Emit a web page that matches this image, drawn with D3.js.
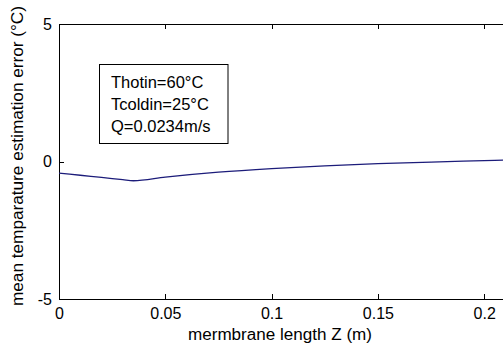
<!DOCTYPE html>
<html><head><meta charset="utf-8">
<script src="https://cdn.jsdelivr.net/npm/d3@7"></script>
<style>
html,body{margin:0;padding:0;background:#fff;}
svg{display:block;font-family:Arial,"Liberation Sans",sans-serif;}
</style></head>
<body>
<svg id="c" width="503" height="348"></svg>
<script>
const zValues = [0, 0.01, 0.02, 0.03, 0.035, 0.05, 0.075, 0.1, 0.125, 0.15, 0.175, 0.2, 0.21];
const errValues = [-0.42, -0.50, -0.58, -0.66, -0.70, -0.57, -0.39, -0.26, -0.16, -0.08, -0.02, 0.03, 0.05];
const xTicks = [0, 0.05, 0.1, 0.15, 0.2];
const xTickLabels = ["0", "0.05", "0.1", "0.15", "0.2"];
const yTicks = [-5, 0, 5];
const yTickLabels = ["-5", "0", "5"];
const legendLines = ["Thotin=60°C", "Tcoldin=25°C", "Q=0.0234m/s"];
const xLabel = "mermbrane length Z (m)";
const yLabel = "mean temparature estimation error (°C)";

(function(){
const svg = d3.select("#c");
const mLeft = 59, mTop = 24, mBottom = 299;
const x = d3.scaleLinear().domain([0, 0.21]).range([mLeft, mLeft + 0.21 * 2126]);
const y = d3.scaleLinear().domain([-5, 5]).range([mBottom, mTop]);

function styleAxis(g){
  g.selectAll("path,line").attr("stroke","#000").attr("stroke-width",1).attr("shape-rendering","crispEdges");
  g.selectAll("text").attr("fill","#000").style("font-size","16px").style("font-family","Arial, 'Liberation Sans', sans-serif");
}

svg.append("g").attr("transform",`translate(0,${mBottom})`)
  .call(d3.axisBottom(x).tickValues(xTicks).tickFormat((d,i)=>xTickLabels[i]).tickSizeInner(-5).tickSizeOuter(0).tickPadding(9))
  .call(styleAxis);
svg.append("g").attr("transform",`translate(0,${mTop})`)
  .call(d3.axisTop(x).tickValues(xTicks).tickFormat("").tickSizeInner(-5).tickSizeOuter(0))
  .call(styleAxis);
svg.append("g").attr("transform",`translate(${mLeft},0)`)
  .call(d3.axisLeft(y).tickValues(yTicks).tickFormat((d,i)=>yTickLabels[i]).tickSizeInner(-5).tickSizeOuter(0).tickPadding(7))
  .call(styleAxis);

const line = d3.line().x((d,i)=>x(zValues[i])).y(d=>y(d)).curve(d3.curveMonotoneX);
svg.append("path").datum(errValues).attr("d", line)
  .attr("fill","none").attr("stroke","#1c1c7a").attr("stroke-width",1.3);

const lg = svg.append("g");
lg.append("rect").attr("x",99.5).attr("y",64.5).attr("width",128.5).attr("height",79)
  .attr("fill","#fff").attr("stroke","#000").attr("stroke-width",1);
lg.selectAll("text").data(legendLines).join("text")
  .attr("x",111).attr("y",(d,i)=>88 + i*22)
  .style("font-size","16.5px").attr("fill","#000").text(d=>d);

svg.append("text").attr("x",280).attr("y",340).attr("text-anchor","middle")
  .attr("textLength",184).attr("lengthAdjust","spacingAndGlyphs")
  .style("font-size","16px").attr("fill","#000").text(xLabel);
svg.append("text").attr("transform","translate(23,156) rotate(-90)").attr("text-anchor","middle")
  .attr("textLength",300).attr("lengthAdjust","spacingAndGlyphs")
  .style("font-size","16px").attr("fill","#000").text(yLabel);
})();
</script>
</body></html>
